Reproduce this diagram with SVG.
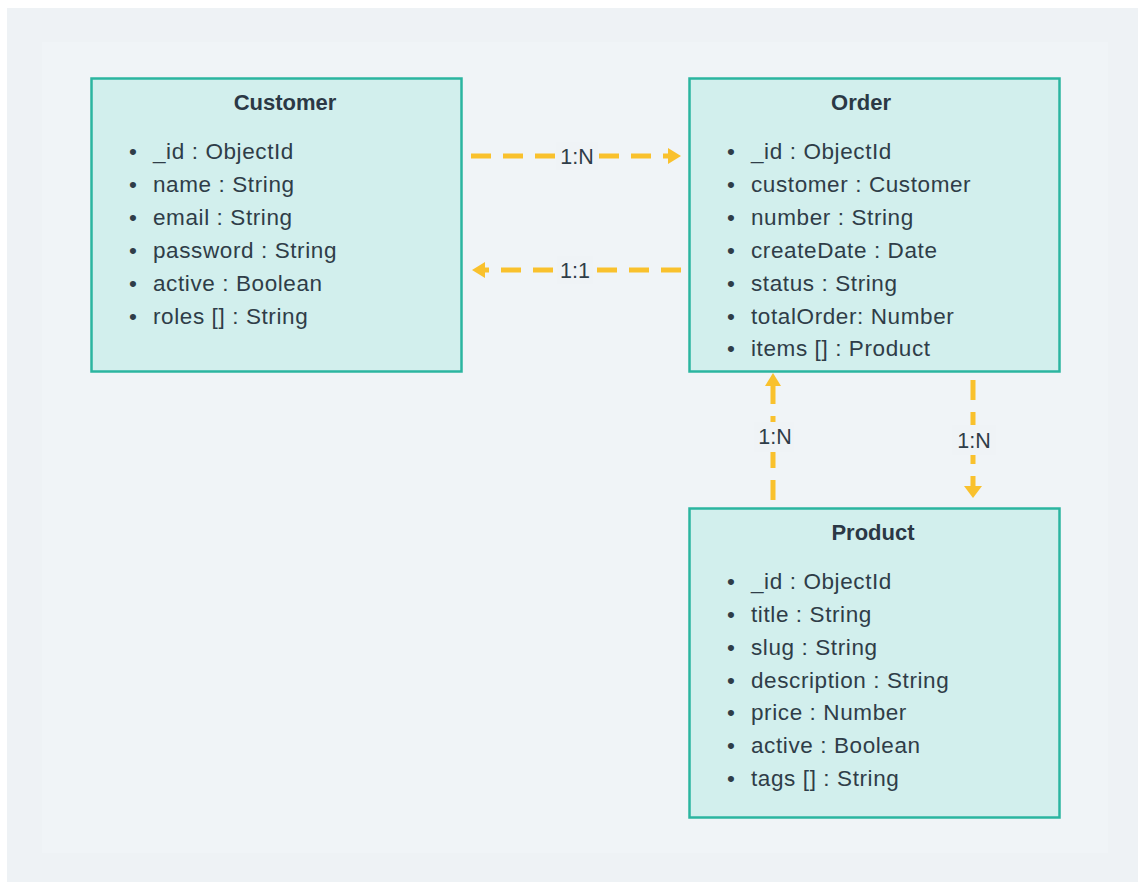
<svg xmlns="http://www.w3.org/2000/svg" width="1138" height="882" viewBox="0 0 1138 882">
<style>
.box{fill:#d2efed;stroke:#2bb5a0;stroke-width:2.5}
.title{font-family:"Liberation Sans",Arial,sans-serif;font-weight:bold;font-size:22px;fill:#2b3845;text-anchor:middle}
.item{font-family:"Liberation Sans",Arial,sans-serif;font-size:22.5px;letter-spacing:0.6px;fill:#2f3d48}
.lbl{font-family:"Liberation Sans",Arial,sans-serif;font-size:21.5px;fill:#2f3d48;text-anchor:middle}
.conn{stroke:#f9c12d;stroke-width:5;stroke-dasharray:20 12;fill:none}
.head{fill:#f9c12d}
.gap{fill:#eff3f6}
</style>
<rect x="0" y="0" width="1138" height="882" fill="#ffffff"/>
<rect x="7" y="8" width="1131" height="874" fill="#eef2f5"/>
<rect x="42" y="42" width="1066" height="811" fill="#f0f4f7"/>

<g id="customer">
<rect class="box" x="91.5" y="78.5" width="370" height="293"/>
<text class="title" x="285" y="110">Customer</text>
<g class="item">
<text x="129" y="159">•</text><text x="153" y="159">_id : ObjectId</text>
<text x="129" y="192">•</text><text x="153" y="192">name : String</text>
<text x="129" y="225">•</text><text x="153" y="225">email : String</text>
<text x="129" y="258">•</text><text x="153" y="258">password : String</text>
<text x="129" y="291">•</text><text x="153" y="291">active : Boolean</text>
<text x="129" y="324">•</text><text x="153" y="324">roles [] : String</text>
</g>
</g>

<g id="order">
<rect class="box" x="689.5" y="78.5" width="370" height="293"/>
<text class="title" x="861" y="110">Order</text>
<g class="item">
<text x="727" y="159">•</text><text x="751" y="159">_id : ObjectId</text>
<text x="727" y="192">•</text><text x="751" y="192">customer : Customer</text>
<text x="727" y="225">•</text><text x="751" y="225">number : String</text>
<text x="727" y="258">•</text><text x="751" y="258">createDate : Date</text>
<text x="727" y="291">•</text><text x="751" y="291">status : String</text>
<text x="727" y="324">•</text><text x="751" y="324">totalOrder: Number</text>
<text x="727" y="356">•</text><text x="751" y="356">items [] : Product</text>
</g>
</g>

<g id="product">
<rect class="box" x="689.5" y="508.5" width="370" height="309"/>
<text class="title" x="873" y="540">Product</text>
<g class="item">
<text x="727" y="589">•</text><text x="751" y="589">_id : ObjectId</text>
<text x="727" y="622">•</text><text x="751" y="622">title : String</text>
<text x="727" y="655">•</text><text x="751" y="655">slug : String</text>
<text x="727" y="688">•</text><text x="751" y="688">description : String</text>
<text x="727" y="720">•</text><text x="751" y="720">price : Number</text>
<text x="727" y="753">•</text><text x="751" y="753">active : Boolean</text>
<text x="727" y="786">•</text><text x="751" y="786">tags [] : String</text>
</g>
</g>

<g id="connectors">
<g id="c1">
<line class="conn" x1="471" y1="156" x2="668" y2="156"/>
<polygon class="head" points="668,148 681,156 668,164"/>
<rect class="gap" x="556" y="142" width="42" height="28"/>
<text class="lbl" x="577" y="164">1:N</text>
</g>
<g id="c2">
<line class="conn" x1="681" y1="270" x2="485" y2="270"/>
<polygon class="head" points="485,262 472,270 485,278"/>
<rect class="gap" x="557" y="256" width="36" height="28"/>
<text class="lbl" x="575" y="278">1:1</text>
</g>
<g id="c3">
<line class="conn" x1="773" y1="500" x2="773" y2="385"/>
<polygon class="head" points="765,386 773,373 781,386"/>
<rect class="gap" x="754" y="422" width="40" height="30"/>
<text class="lbl" x="775" y="444">1:N</text>
</g>
<g id="c4">
<line class="conn" x1="973" y1="380" x2="973" y2="486"/>
<polygon class="head" points="964,486 982,486 973,498"/>
<rect class="gap" x="952" y="425" width="44" height="30"/>
<text class="lbl" x="974" y="448">1:N</text>
</g>
</g>
</svg>
